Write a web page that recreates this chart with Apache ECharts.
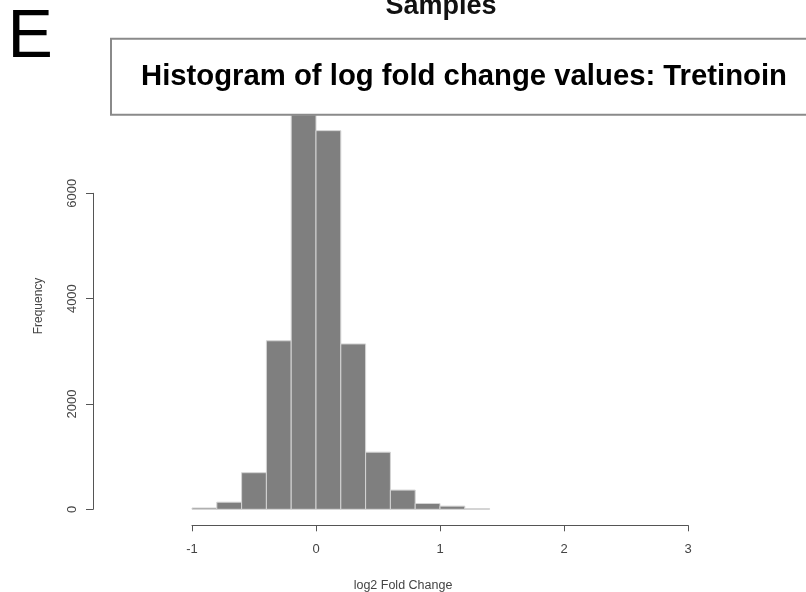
<!DOCTYPE html>
<html>
<head>
<meta charset="utf-8">
<script src="https://cdn.jsdelivr.net/npm/echarts@6/dist/echarts.min.js"></script>
<style>
  html, body { margin: 0; padding: 0; background: #ffffff; }
  #chart { width: 806px; height: 592px; }
</style>
</head>
<body>
<div id="chart"></div>
<script>
// Histogram bins (log2 fold change) and their counts
const binStart = [-1.0, -0.8, -0.6, -0.4, -0.2, 0.0, 0.2, 0.4, 0.6, 0.8, 1.0, 1.2];
const binEnd   = [-0.8, -0.6, -0.4, -0.2, 0.0, 0.2, 0.4, 0.6, 0.8, 1.0, 1.2, 1.4];
const counts   = [25, 135, 695, 3200, 7490, 7190, 3140, 1085, 365, 110, 60, 12];

// Axis ticks
const xTicks = [-1, 0, 1, 2, 3];
const yTicks = [0, 2000, 4000, 6000];

const panelLetter = 'E';
const topHeading = 'Samples';
const titleText = 'Histogram of log fold change values: Tretinoin';
const xName = 'log2 Fold Change';
const yName = 'Frequency';

const FONT = '"Liberation Sans", Arial, Helvetica, sans-serif';

// Stretch the boxed title horizontally to its drawn width
function textWidth(str, font) {
  const c = document.createElement('canvas').getContext('2d');
  c.font = font;
  return c.measureText(str).width;
}
const titleSize = 29;
const titleSpan = 646;
const titleScale = titleSpan / textWidth(titleText, 'bold ' + titleSize + 'px ' + FONT);

const histData = binStart.map((s, i) => [s, binEnd[i], counts[i]]);

const chart = echarts.init(document.getElementById('chart'), null, { renderer: 'canvas' });

chart.setOption({
  backgroundColor: '#ffffff',
  animation: false,
  grid: [
    { left: 192, right: 118, top: 114.3, bottom: 82.7 },
    { left: 192, right: 118, top: 193.3, bottom: 82.7 }
  ],
  xAxis: [
    {
      type: 'value', gridIndex: 0, min: xTicks[0], max: xTicks[xTicks.length - 1], interval: 1,
      offset: 16,
      axisLine: { show: true, onZero: false, lineStyle: { color: '#555', width: 1 } },
      axisTick: { show: true, length: 6, lineStyle: { color: '#555', width: 1 } },
      axisLabel: { color: '#444', fontSize: 13, fontFamily: FONT, margin: 18 },
      splitLine: { show: false }
    },
    { type: 'value', gridIndex: 1, min: -1, max: 3, show: false }
  ],
  yAxis: [
    { type: 'value', gridIndex: 0, min: 0, max: 7500, show: false },
    {
      type: 'value', gridIndex: 1, min: yTicks[0], max: yTicks[yTicks.length - 1], interval: 2000,
      offset: 99,
      axisLine: { show: true, onZero: false, lineStyle: { color: '#555', width: 1 } },
      axisTick: { show: true, length: 7, lineStyle: { color: '#555', width: 1 } },
      axisLabel: { color: '#444', fontSize: 13, fontFamily: FONT, rotate: 90, margin: 14,
                   formatter: v => String(v) },
      splitLine: { show: false }
    }
  ],
  series: [
    {
      type: 'custom',
      xAxisIndex: 0,
      yAxisIndex: 0,
      data: histData,
      encode: { x: [0, 1], y: 2 },
      renderItem: function (params, api) {
        const p0 = api.coord([api.value(0), 0]);
        const p1 = api.coord([api.value(1), api.value(2)]);
        return {
          type: 'rect',
          shape: { x: p0[0], y: p1[1], width: p1[0] - p0[0], height: p0[1] - p1[1] },
          style: { fill: '#7f7f7f', stroke: '#d4d4d4', lineWidth: 1 }
        };
      }
    }
  ],
  graphic: [
    {
      type: 'text', z: 10,
      style: { x: 7.6, y: 38, text: panelLetter, font: '68px ' + FONT, fill: '#000',
               textAlign: 'left', textVerticalAlign: 'middle' }
    },
    {
      type: 'text', z: 10,
      style: { x: 441, y: 6.5, text: topHeading, font: 'bold 27px ' + FONT, fill: '#111',
               textAlign: 'center', textVerticalAlign: 'middle' }
    },
    {
      type: 'rect', z: 20,
      shape: { x: 111, y: 38.7, width: 720, height: 76 },
      style: { fill: '#ffffff', stroke: '#8a8a8a', lineWidth: 2 }
    },
    {
      type: 'text', z: 21,
      x: 464, y: 77, scaleX: titleScale,
      style: { x: 0, y: 0, text: titleText, font: 'bold ' + titleSize + 'px ' + FONT, fill: '#000',
               textAlign: 'center', textVerticalAlign: 'middle' }
    },
    {
      type: 'text', z: 10,
      style: { x: 403, y: 586, text: xName, font: '12.5px ' + FONT, fill: '#444',
               textAlign: 'center', textVerticalAlign: 'middle' }
    },
    {
      type: 'text', z: 10,
      x: 39, y: 306, rotation: Math.PI / 2,
      style: { x: 0, y: 0, text: yName, font: '12px ' + FONT, fill: '#444',
               textAlign: 'center', textVerticalAlign: 'middle' }
    }
  ]
});
</script>
</body>
</html>
